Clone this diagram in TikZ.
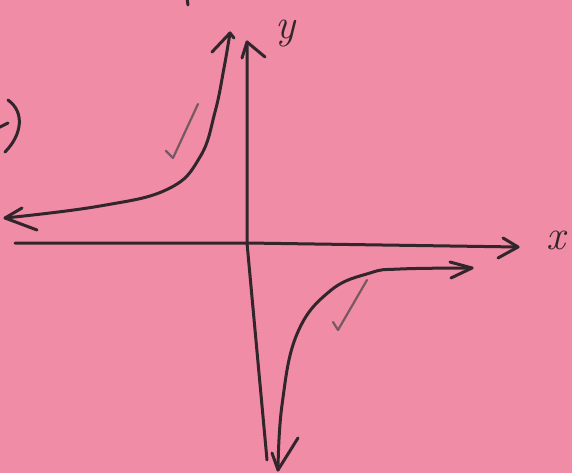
\documentclass[tikz,border=0pt]{standalone}
\usetikzlibrary{arrows.meta}
\definecolor{paper}{RGB}{240,140,165}
\definecolor{ink}{RGB}{50,38,44}
\definecolor{pencil}{RGB}{120,88,98}
\begin{document}
\begin{tikzpicture}[x=1pt,y=-1pt,
  pen/.style={draw=ink,line width=3pt,line cap=round,line join=round},
  tick/.style={draw=pencil,line width=2.2pt,line cap=round,line join=round},
  lbl/.style={text=ink,font=\itshape\fontsize{42}{42}\selectfont,inner sep=0pt}]
\fill[paper] (0,0) rectangle (572,473);
\useasboundingbox (0,0) rectangle (572,473);
% axes
\coordinate (ybot) at (267,460);
\coordinate (ytop) at (247,42);
\coordinate (xl) at (15,243);
\coordinate (xr) at (518,247);
\draw[pen] (ybot) -- (247,243) -- (ytop);
\draw[pen] (242,58) -- (ytop) -- (265,57);
\draw[pen] (xl) -- (247,243) -- (xr);
\draw[pen] (503,238) -- (xr) -- (498,258);
\node[lbl] (ylab) at (285,34) {y};
\node[lbl] (xlab) at (556,240) {x};
% upper-left branch
\coordinate (ulA) at (5,218);
\coordinate (ulB) at (230,33);
\draw[pen] plot[smooth,tension=0.7] coordinates {(ulA) (100,206) (168,189) (200,157) (215,112) (224,68) (ulB)};
\draw[pen] (22,208) -- (ulA) -- (37,230);
\draw[pen] (212,52) -- (ulB) -- (234,38);
\draw[tick] (166,151) -- (173,158) -- (198,104);
% lower-right branch
\coordinate (lrA) at (278,470);
\coordinate (lrB) at (472,268);
\draw[pen] plot[smooth,tension=0.7] coordinates {(lrA) (282,405) (297,334) (330,291) (370,273) (400,269) (lrB)};
\draw[pen] (272,453) -- (lrA) -- (298,438);
\draw[pen] (450,262) -- (lrB) -- (451,278);
\draw[tick] (333,322) -- (338,330) -- (367,280);
% fragments at the left and top edges
\draw[pen] (8,100) .. controls (25,112) and (22,135) .. (5,152);
\draw[pen] (-2,128) -- (8,123);
\draw[pen] (187,-2) -- (188,5);
\end{tikzpicture}
\end{document}
